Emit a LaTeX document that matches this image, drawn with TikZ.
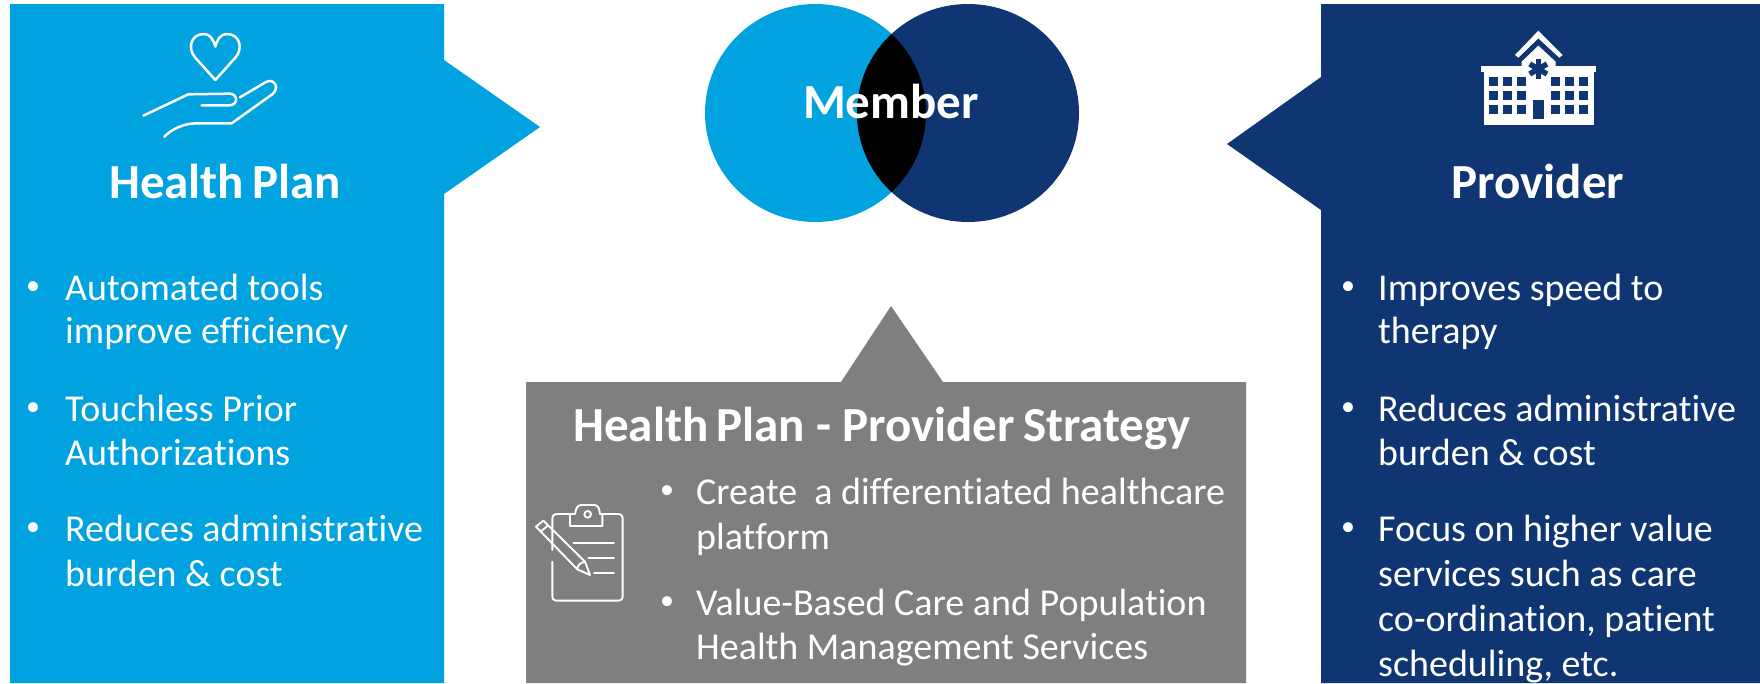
\documentclass[tikz,border=0pt]{standalone}
\usepackage{fontspec}
\setmainfont[Ligatures=NoCommon]{Carlito}
\definecolor{cyanp}{HTML}{00A3E0}
\definecolor{navyp}{HTML}{0F3572}
\definecolor{greyp}{HTML}{7F7F7F}
\tikzset{
 txt/.style={anchor=base west,inner sep=0pt,text=white,font=\fontsize{38}{38}\selectfont},
 bul/.style={anchor=base,inner sep=0pt,text=white,yshift=6pt,font=\fontsize{28}{28}\selectfont},
 head/.style={anchor=base,inner sep=0pt,text=white,font=\fontsize{49}{49}\selectfont\bfseries},
 icon/.style={draw=white,line width=2.5pt,line cap=round,line join=round},
 iconthin/.style={draw=white,line width=1.9pt,line cap=round,line join=round},
}
\begin{document}
\begin{tikzpicture}[x=1pt,y=-1pt]
\useasboundingbox (0,0) rectangle (1760,683);
\fill[white] (0,0) rectangle (1760,683);
% panels
\fill[cyanp] (10,4) -- (444,4) -- (444,60) -- (540,127) -- (444,194) -- (444,683) -- (10,683) -- cycle;
\fill[navyp] (1321,4) -- (1760,4) -- (1760,683) -- (1321,683) -- (1321,210) -- (1227,144) -- (1321,77) -- cycle;
\fill[greyp] (526,382) -- (841,382) -- (891,306) -- (943,382) -- (1246,382) -- (1246,683) -- (526,683) -- cycle;
% venn
\fill[cyanp] (815.5,113) ellipse (110.5 and 109);
\fill[navyp] (968,113) ellipse (111 and 109);
\begin{scope}
\clip (815.5,113) ellipse (110.5 and 109);
\fill[black] (968,113) ellipse (111 and 109);
\end{scope}
\node[head] (member) at (891,118) {Member};
% headings
\node[head] (hp) at (225,198) {Health\hspace{-3pt} Plan};
\node[head] (pr) at (1538,198) {Provider};
\node[head] (st) at (882,441) {Health\hspace{-3pt} Plan - Provider\hspace{-3pt} Strategy};
% left
\node[bul] (l1) at (33,300) {•};
\node[txt] (l1a) at (65,300) {Automated tools};
\node[txt] (l1b) at (65,343) {improve efficiency};
\node[bul] (l2) at (33,421) {•};
\node[txt] (l2a) at (65,421) {Touchless Prior};
\node[txt] (l2b) at (65,465) {Authorizations};
\node[bul] (l3) at (33,541) {•};
\node[txt] (l3a) at (65,541) {Reduces administrative};
\node[txt] (l3b) at (65,586) {burden \& cost};
% right
\node[bul] (r1) at (1348,300) {•};
\node[txt] (r1a) at (1378,300) {Improves speed to};
\node[txt] (r1b) at (1378,343) {therapy};
\node[bul] (r2) at (1348,421) {•};
\node[txt] (r2a) at (1378,421) {Reduces administrative};
\node[txt] (r2b) at (1378,465) {burden \& cost};
\node[bul] (r3) at (1348,541) {•};
\node[txt] (r3a) at (1378,541) {Focus on higher value};
\node[txt] (r3b) at (1378,586) {services such as care};
\node[txt] (r3c) at (1378,631) {co-ordination, patient};
\node[txt] (r3d) at (1378,676) {scheduling, etc.};
% centre
\node[bul] (c1) at (667,504) {•};
\node[txt] (c1a) at (696,504) {Create\ \ a differentiated healthcare};
\node[txt] (c1b) at (696,549) {platform};
\node[bul] (c2) at (667,615) {•};
\node[txt] (c2a) at (696,615) {Value-Based Care and Population};
\node[txt] (c2b) at (696,659) {Health Management Services};
% heart and hand
\begin{scope}[shift={(100,0)},x=0.3333pt,y=-0.3333pt]
\draw[icon] (346,240) -- (285,172) .. controls (262,145) and (272,102) .. (312,102) .. controls (330,102) and (340,118) .. (346,140) .. controls (352,118) and (362,102) .. (380,102) .. controls (420,102) and (430,145) .. (407,172) -- cycle;
\draw[icon] (130,347) -- (265,283) -- (388,281) .. controls (415,281) and (415,316) .. (388,316) -- (305,316);
\draw[icon] (420,292) -- (498,246) .. controls (522,234) and (540,262) .. (518,282) -- (395,370) -- (290,370) .. controls (250,370) and (215,388) .. (193,410);
\end{scope}
% hospital
\begin{scope}[shift={(1440,10)},x=0.3333pt,y=-0.3333pt]
\fill[white] (225,135) -- (295,62) -- (368,135) -- (358,143) -- (295,85) -- (235,143) -- cycle;
\fill[white] (245,170) -- (245,155) -- (295,107) -- (347,155) -- (347,170) -- cycle;
\fill[white] (123,168) rectangle (468,185);
\fill[white] (131,185) rectangle (461,346);
\foreach \wx in {148,190,232,334,376,418}
 \foreach \wy in {202,244,286}
  \fill[navyp] (\wx,\wy) rectangle ++(26,26);
\fill[navyp] (279,269) rectangle (313,328);
\foreach \ang in {90,150,210}
 \draw[navyp,line width=5.5pt] (295,177) ++(\ang:30) -- ++(\ang+180:60);
\end{scope}
% clipboard
\begin{scope}[shift={(520,490)},x=0.3333pt,y=-0.3333pt]
\draw[iconthin] (150,72) -- (112,72) .. controls (102,72) and (97,77) .. (97,87) -- (97,180);
\draw[iconthin] (97,215) -- (97,318) .. controls (97,328) and (102,332) .. (112,332) -- (293,332) .. controls (303,332) and (308,328) .. (308,318) -- (308,87) .. controls (308,77) and (303,72) .. (293,72) -- (247,72);
\draw[iconthin] (150,108) -- (150,72) -- (165,72) .. controls (168,55) and (172,45) .. (185,45) -- (222,45) .. controls (235,45) and (238,55) .. (240,72) -- (247,72) -- (247,108) -- cycle;
\draw[iconthin] (203,73) circle (10);
\draw[iconthin] (160,160) -- (282,160);
\draw[iconthin] (205,205) -- (282,205);
\draw[iconthin] (222,250) -- (282,250);
\draw[iconthin] (48,110) -- (70,92) -- (195,215) -- (210,255) -- (172,238) -- cycle;
\draw[iconthin] (62,125) -- (84,106);
\draw[iconthin] (172,238) .. controls (172,225) and (182,218) .. (195,215);
\end{scope}
\end{tikzpicture}
\end{document}
